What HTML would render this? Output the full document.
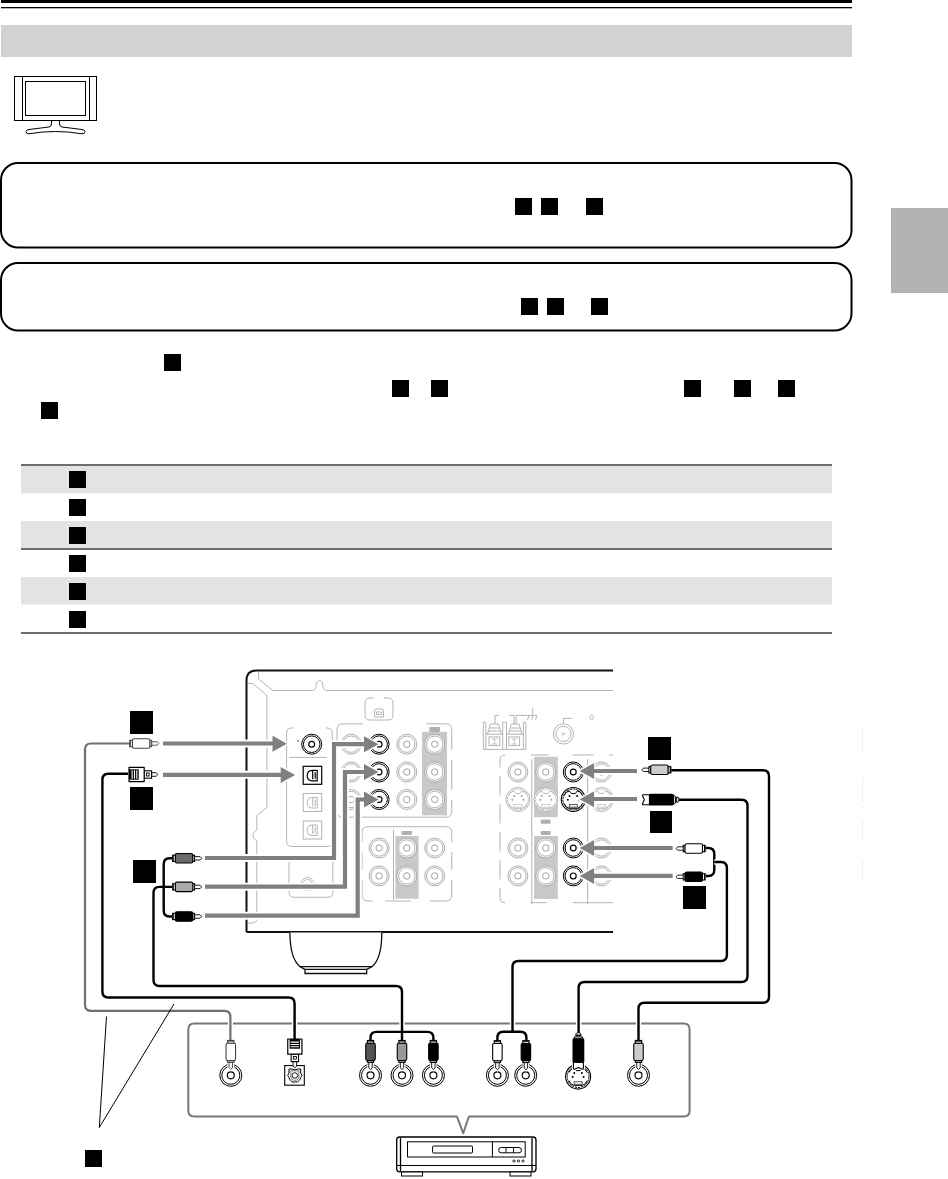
<!DOCTYPE html>
<html><head><meta charset="utf-8"><title>Connecting a DVD player</title>
<style>
html,body{margin:0;padding:0;background:#fff;font-family:"Liberation Sans",sans-serif;}
body{width:948px;height:1179px;overflow:hidden;position:relative;}
svg{position:absolute;left:0;top:0;display:block;}
</style></head><body>
<svg width="948" height="1179" viewBox="0 0 948 1179">
<rect x="1" y="0" width="851" height="3" fill="#000"/>
<rect x="1" y="7" width="851" height="1.3" fill="#000"/>
<rect x="1" y="25" width="851" height="32" fill="#d2d2d2"/>
<g fill="none" stroke="#000" stroke-width="1">
<rect x="14.5" y="76.5" width="82" height="44"/>
<line x1="22.5" y1="76.5" x2="22.5" y2="120.5"/><line x1="89.5" y1="76.5" x2="89.5" y2="120.5"/>
<rect x="25.5" y="81.5" width="60" height="34"/>
<path d="M51.5,120.5 V124 Q51.5,126.5 49,127 L29,129.5 Q26,130 26,131.5 Q26,134 29,133.8 Q42,131.5 55.5,131.5 Q69,131.5 82,133.8 Q85,134 85,131.5 Q85,130 82,129.5 L62,127 Q59.5,126.5 59.5,124 V120.5"/>
</g>
<rect x="1" y="163" width="850.5" height="84.5" rx="17" fill="none" stroke="#000" stroke-width="2"/>
<rect x="1" y="263" width="850.5" height="67.5" rx="17" fill="none" stroke="#000" stroke-width="2"/>
<rect x="515" y="198" width="17" height="17" fill="#000"/>
<rect x="541" y="198" width="17" height="17" fill="#000"/>
<rect x="586" y="198" width="17" height="17" fill="#000"/>
<rect x="521" y="298" width="17" height="17" fill="#000"/>
<rect x="547" y="298" width="17" height="17" fill="#000"/>
<rect x="591" y="298" width="17" height="17" fill="#000"/>
<rect x="891" y="208" width="57" height="85" fill="#b2b2b2"/>
<rect x="164" y="354" width="17" height="17" fill="#000"/>
<rect x="41" y="402" width="17" height="17" fill="#000"/>
<rect x="392" y="380" width="17" height="17" fill="#000"/>
<rect x="431" y="380" width="17" height="17" fill="#000"/>
<rect x="684" y="380" width="17" height="17" fill="#000"/>
<rect x="734" y="380" width="17" height="17" fill="#000"/>
<rect x="778" y="380" width="17" height="17" fill="#000"/>
<rect x="21" y="466" width="811" height="27.5" fill="#e3e3e3"/>
<rect x="21" y="521" width="811" height="27.5" fill="#e3e3e3"/>
<rect x="21" y="577" width="811" height="27.5" fill="#e3e3e3"/>
<rect x="21" y="464" width="811" height="2" fill="#6e6e6e"/>
<rect x="21" y="548" width="811" height="2" fill="#6e6e6e"/>
<rect x="21" y="632" width="811" height="2" fill="#6e6e6e"/>
<rect x="69" y="471" width="17" height="17" fill="#000"/>
<rect x="69" y="499" width="17" height="17" fill="#000"/>
<rect x="69" y="527" width="17" height="17" fill="#000"/>
<rect x="69" y="555" width="17" height="17" fill="#000"/>
<rect x="69" y="583" width="17" height="17" fill="#000"/>
<rect x="69" y="611" width="17" height="17" fill="#000"/>
<defs><clipPath id="rc"><rect x="200" y="650" width="413" height="300"/></clipPath></defs>
<g clip-path="url(#rc)">
<g fill="none" stroke="#b4b4b4" stroke-width="1">
<path d="M258.5,670.5 V679 L272.7,690.5 H313.5 L316,688 C316,682 317.5,680.5 319.5,680.5 C321.5,680.5 323,682 323,688 L325.5,690.5 H620"/>
<path d="M247,683.4 H252.7 L266.9,695.3 V807.3 L256.8,815.7 V830 C253.5,832 253,834 253,835.5 C253,837.5 254,839 256.8,841 V918.8 Q256.8,923 251,923 H247"/>
<path d="M294,728 H291.6 Q286.6,728 286.6,733 V841.5 Q286.6,846.5 291.6,846.5 H327.2 Q332.2,846.5 332.2,841.5 V733 Q332.2,728 327.2,728 H326"/>
<line x1="289" y1="757.4" x2="327" y2="757.4"/>
<path d="M289,860 V892.3 Q289,897.3 294,897.3 H327.8 Q332.8,897.3 332.8,892.3 V860"/>
<path d="M301,884 A6.5,6.5 0 0 1 314,884 M303,884 A4.5,4.5 0 0 1 312,884 M303.5,890.5 H311.5"/>
<path d="M363,723.8 H343 Q337,723.8 337,729.8 V811.2 Q337,817.2 343,817.2 H445.8 Q451.8,817.2 451.8,811.2 V800 M451.8,790 V760 M451.8,750 V729.8 Q451.8,723.8 445.8,723.8 H426"/>
<path d="M370,698 Q365,698 365,703 V715 Q365,720 370,720 H388 Q393,720 393,715 V703 Q393,698 388,698 H384 M374,698 H370"/>
<path d="M374.5,717 V711 Q374.5,709 376.5,709 H381.5 Q383.5,709 383.5,711 V717 Z M376.5,712 H381.5 V714.5 H376.5 Z"/>
<path d="M362,842 V832.7 Q362,826.7 368,826.7 H445.8 Q451.8,826.7 451.8,832.7 V842 M451.8,852 V870 M451.8,880 V895 Q451.8,901 445.8,901 H429.7 M411,901 H385 M372.7,901 H368 Q362,901 362,895 V880 M362,870 V852"/>
<line x1="393.5" y1="830" x2="393.5" y2="900"/>
<path d="M483.3,749.4 V722.2 H485.8 V749.4 M502.7,749.4 V722.2 H506.5 V749.4 M523.3,749.4 V722.2 H525.8 V749.4 M483.3,749.4 H525.8 M485.8,734.2 H502.7 M506.5,734.2 H523.3"/>
<path d="M487.5,734 L490.5,724 H498.5 L501.5,734 M488.5,731 H500.5 M489.5,728 H499.5 M508.5,734 L511,724 H519 L522,734 M509.5,731 H521 M510.5,728 H520"/>
<rect x="489" y="737" width="10.8" height="8.6"/><rect x="508.8" y="737" width="10.8" height="8.6"/>
<path d="M492,739 H497 M494.5,739 V744 M492,744 H497 M511.8,739 H516.8 M514.3,739 V744 M511.8,744 H516.8" stroke-width="0.8"/>
<path d="M495,724 V715.4 H499 M509,715.4 H514 V724 M516,724 V715.4 H536.9 M532.7,708 V715.4 M529,715.4 L527.5,720 M533,715.4 L531.5,720 M537,715.4 L535.5,720"/>
<circle cx="563.4" cy="733.9" r="10.1"/><circle cx="563.4" cy="733.9" r="7.6"/><path d="M563.4,732.6 L564.7,733.9 L563.4,735.2 L562.1,733.9 Z"/><path d="M563.4,723.8 V718.4 H571.7"/>
<path d="M590,720 H591 V719 Q589.8,718 589.8,716.8 Q589.8,715 591.7,715 Q593.6,715 593.6,716.8 Q593.6,718 592.4,719 V720 H593.4" stroke-width="0.8"/>
<path d="M505,755 Q500,755 500,760 V767.4 M500,775.8 V795.4 M500,803.8 V823.4 M500,831.8 V851.4 M500,859.8 V879.4 M500,887.8 V897.7 Q500,902.7 505,902.7 M531.8,759 V904 M587.6,759 V904 M530.6,755 H548.8 M572.6,755 H593.6 M609,755 H620 M530.6,902.7 H546.7 M572.6,902.7 H620"/>
</g>
<rect x="422" y="731.8" width="25" height="83.5" fill="#c8c8c8"/>
<rect x="429.4" y="727" width="10.6" height="5" rx="1" fill="#b0b0b0"/>
<rect x="395.4" y="836" width="23.2" height="62.7" fill="#c8c8c8"/>
<rect x="401.5" y="831" width="10.5" height="4" rx="1" fill="#b0b0b0"/>
<rect x="534" y="756.8" width="23.8" height="60.4" fill="#c8c8c8"/>
<rect x="540.7" y="819.5" width="10" height="4.2" rx="1" fill="#b0b0b0"/>
<rect x="534" y="836" width="23.8" height="63" fill="#c8c8c8"/>
<rect x="540.7" y="831" width="10" height="4" rx="1" fill="#b0b0b0"/>
<circle cx="311.7" cy="744.2" r="10" fill="#fff" stroke="#000" stroke-width="1"/>
<circle cx="311.7" cy="744.2" r="8.3" fill="none" stroke="#000" stroke-width="1"/>
<circle cx="311.7" cy="744.2" r="2.9" fill="none" stroke="#000" stroke-width="1.2"/>
<circle cx="298" cy="741" r="0.7" fill="#000"/>
<rect x="303.2" y="766.3" width="18.5" height="18" fill="#fff" stroke="#000" stroke-width="1.2"/>
<path d="M317.2,770.3 H312.2 Q307.2,770.3 307.2,775.8 Q307.2,780.8 312.2,780.8 H317.2 Z M312.7,770.3 V779.3 M315.2,772.3 V778.8" fill="none" stroke="#000" stroke-width="1.2"/>
<rect x="303.2" y="793.5" width="18.5" height="18" fill="#fff" stroke="#aaa" stroke-width="0.9"/>
<path d="M317.2,797.5 H312.2 Q307.2,797.5 307.2,803.0 Q307.2,808.0 312.2,808.0 H317.2 Z M312.7,797.5 V806.5 M315.2,799.5 V806.0" fill="none" stroke="#aaa" stroke-width="0.9"/>
<rect x="303.2" y="821" width="18.5" height="18" fill="#fff" stroke="#aaa" stroke-width="0.9"/>
<path d="M317.2,825 H312.2 Q307.2,825 307.2,830.5 Q307.2,835.5 312.2,835.5 H317.2 Z M312.7,825 V834 M315.2,827 V833.5" fill="none" stroke="#aaa" stroke-width="0.9"/>
<circle cx="351.2" cy="744.2" r="10" fill="#fff" stroke="#9a9a9a" stroke-width="0.8"/>
<circle cx="351.2" cy="744.2" r="8.2" fill="none" stroke="#9a9a9a" stroke-width="0.8"/>
<circle cx="351.2" cy="744.2" r="3.2" fill="none" stroke="#9a9a9a" stroke-width="0.9"/>
<circle cx="379.1" cy="744.2" r="10" fill="#fff" stroke="#000" stroke-width="1"/>
<circle cx="379.1" cy="744.2" r="8.3" fill="none" stroke="#000" stroke-width="1"/>
<circle cx="379.1" cy="744.2" r="2.9" fill="none" stroke="#000" stroke-width="1.2"/>
<circle cx="406.8" cy="744.2" r="10" fill="#fff" stroke="#9a9a9a" stroke-width="0.8"/>
<circle cx="406.8" cy="744.2" r="8.2" fill="none" stroke="#9a9a9a" stroke-width="0.8"/>
<circle cx="406.8" cy="744.2" r="3.2" fill="none" stroke="#9a9a9a" stroke-width="0.9"/>
<circle cx="434.7" cy="744.2" r="10" fill="#fff" stroke="#9a9a9a" stroke-width="0.8"/>
<circle cx="434.7" cy="744.2" r="8.2" fill="none" stroke="#9a9a9a" stroke-width="0.8"/>
<circle cx="434.7" cy="744.2" r="3.2" fill="none" stroke="#9a9a9a" stroke-width="0.9"/>
<circle cx="351.2" cy="772" r="10" fill="#fff" stroke="#9a9a9a" stroke-width="0.8"/>
<circle cx="351.2" cy="772" r="8.2" fill="none" stroke="#9a9a9a" stroke-width="0.8"/>
<circle cx="351.2" cy="772" r="3.2" fill="none" stroke="#9a9a9a" stroke-width="0.9"/>
<circle cx="379.1" cy="772" r="10" fill="#fff" stroke="#000" stroke-width="1"/>
<circle cx="379.1" cy="772" r="8.3" fill="none" stroke="#000" stroke-width="1"/>
<circle cx="379.1" cy="772" r="2.9" fill="none" stroke="#000" stroke-width="1.2"/>
<circle cx="406.8" cy="772" r="10" fill="#fff" stroke="#9a9a9a" stroke-width="0.8"/>
<circle cx="406.8" cy="772" r="8.2" fill="none" stroke="#9a9a9a" stroke-width="0.8"/>
<circle cx="406.8" cy="772" r="3.2" fill="none" stroke="#9a9a9a" stroke-width="0.9"/>
<circle cx="434.7" cy="772" r="10" fill="#fff" stroke="#9a9a9a" stroke-width="0.8"/>
<circle cx="434.7" cy="772" r="8.2" fill="none" stroke="#9a9a9a" stroke-width="0.8"/>
<circle cx="434.7" cy="772" r="3.2" fill="none" stroke="#9a9a9a" stroke-width="0.9"/>
<circle cx="351.2" cy="799.5" r="10" fill="#fff" stroke="#9a9a9a" stroke-width="0.8"/>
<circle cx="351.2" cy="799.5" r="8.2" fill="none" stroke="#9a9a9a" stroke-width="0.8"/>
<circle cx="351.2" cy="799.5" r="3.2" fill="none" stroke="#9a9a9a" stroke-width="0.9"/>
<circle cx="379.1" cy="799.5" r="10" fill="#fff" stroke="#000" stroke-width="1"/>
<circle cx="379.1" cy="799.5" r="8.3" fill="none" stroke="#000" stroke-width="1"/>
<circle cx="379.1" cy="799.5" r="2.9" fill="none" stroke="#000" stroke-width="1.2"/>
<circle cx="406.8" cy="799.5" r="10" fill="#fff" stroke="#9a9a9a" stroke-width="0.8"/>
<circle cx="406.8" cy="799.5" r="8.2" fill="none" stroke="#9a9a9a" stroke-width="0.8"/>
<circle cx="406.8" cy="799.5" r="3.2" fill="none" stroke="#9a9a9a" stroke-width="0.9"/>
<circle cx="434.7" cy="799.5" r="10" fill="#fff" stroke="#9a9a9a" stroke-width="0.8"/>
<circle cx="434.7" cy="799.5" r="8.2" fill="none" stroke="#9a9a9a" stroke-width="0.8"/>
<circle cx="434.7" cy="799.5" r="3.2" fill="none" stroke="#9a9a9a" stroke-width="0.9"/>
<circle cx="379.1" cy="848" r="10" fill="#fff" stroke="#9a9a9a" stroke-width="0.8"/>
<circle cx="379.1" cy="848" r="8.2" fill="none" stroke="#9a9a9a" stroke-width="0.8"/>
<circle cx="379.1" cy="848" r="3.2" fill="none" stroke="#9a9a9a" stroke-width="0.9"/>
<circle cx="406.8" cy="848" r="10" fill="#fff" stroke="#9a9a9a" stroke-width="0.8"/>
<circle cx="406.8" cy="848" r="8.2" fill="none" stroke="#9a9a9a" stroke-width="0.8"/>
<circle cx="406.8" cy="848" r="3.2" fill="none" stroke="#9a9a9a" stroke-width="0.9"/>
<circle cx="434.7" cy="848" r="10" fill="#fff" stroke="#9a9a9a" stroke-width="0.8"/>
<circle cx="434.7" cy="848" r="8.2" fill="none" stroke="#9a9a9a" stroke-width="0.8"/>
<circle cx="434.7" cy="848" r="3.2" fill="none" stroke="#9a9a9a" stroke-width="0.9"/>
<circle cx="379.1" cy="875.9" r="10" fill="#fff" stroke="#9a9a9a" stroke-width="0.8"/>
<circle cx="379.1" cy="875.9" r="8.2" fill="none" stroke="#9a9a9a" stroke-width="0.8"/>
<circle cx="379.1" cy="875.9" r="3.2" fill="none" stroke="#9a9a9a" stroke-width="0.9"/>
<circle cx="406.8" cy="875.9" r="10" fill="#fff" stroke="#9a9a9a" stroke-width="0.8"/>
<circle cx="406.8" cy="875.9" r="8.2" fill="none" stroke="#9a9a9a" stroke-width="0.8"/>
<circle cx="406.8" cy="875.9" r="3.2" fill="none" stroke="#9a9a9a" stroke-width="0.9"/>
<circle cx="434.7" cy="875.9" r="10" fill="#fff" stroke="#9a9a9a" stroke-width="0.8"/>
<circle cx="434.7" cy="875.9" r="8.2" fill="none" stroke="#9a9a9a" stroke-width="0.8"/>
<circle cx="434.7" cy="875.9" r="3.2" fill="none" stroke="#9a9a9a" stroke-width="0.9"/>
<circle cx="517.9" cy="772" r="10" fill="#fff" stroke="#9a9a9a" stroke-width="0.8"/>
<circle cx="517.9" cy="772" r="8.2" fill="none" stroke="#9a9a9a" stroke-width="0.8"/>
<circle cx="517.9" cy="772" r="3.2" fill="none" stroke="#9a9a9a" stroke-width="0.9"/>
<circle cx="545.8" cy="772" r="10" fill="#fff" stroke="#9a9a9a" stroke-width="0.8"/>
<circle cx="545.8" cy="772" r="8.2" fill="none" stroke="#9a9a9a" stroke-width="0.8"/>
<circle cx="545.8" cy="772" r="3.2" fill="none" stroke="#9a9a9a" stroke-width="0.9"/>
<circle cx="573.3" cy="772" r="10" fill="#fff" stroke="#000" stroke-width="1"/>
<circle cx="573.3" cy="772" r="8.3" fill="none" stroke="#000" stroke-width="1"/>
<circle cx="573.3" cy="772" r="2.9" fill="none" stroke="#000" stroke-width="1.2"/>
<circle cx="601.4" cy="772" r="10" fill="#fff" stroke="#9a9a9a" stroke-width="0.8"/>
<circle cx="601.4" cy="772" r="8.2" fill="none" stroke="#9a9a9a" stroke-width="0.8"/>
<circle cx="601.4" cy="772" r="3.2" fill="none" stroke="#9a9a9a" stroke-width="0.9"/>
<circle cx="517.9" cy="799.5" r="12" fill="#fff" stroke="#a0a0a0" stroke-width="0.8"/>
<circle cx="517.9" cy="799.5" r="10.4" fill="none" stroke="#a0a0a0" stroke-width="0.7200000000000001" stroke-dasharray="2.2,0.8"/>
<path d="M508.9,795.5 Q509.9,791.5 513.9,791.0 L515.9,793.5 H519.9 L521.9,791.0 Q525.9,791.5 526.9,795.5 M508.9,803.5 Q509.9,807.5 513.9,808.3 H521.9 Q525.9,807.5 526.9,803.5" fill="none" stroke="#a0a0a0" stroke-width="0.7200000000000001"/>
<rect x="513.9" y="804.7" width="8" height="2.4" fill="none" stroke="#a0a0a0" stroke-width="0.48"/>
<circle cx="514.1" cy="796.0" r="1" fill="#a0a0a0"/>
<circle cx="521.6999999999999" cy="796.0" r="1" fill="#a0a0a0"/>
<circle cx="512.4" cy="799.8" r="1" fill="#a0a0a0"/>
<circle cx="523.4" cy="799.8" r="1" fill="#a0a0a0"/>
<circle cx="545.8" cy="799.5" r="12" fill="#fff" stroke="#a0a0a0" stroke-width="0.8"/>
<circle cx="545.8" cy="799.5" r="10.4" fill="none" stroke="#a0a0a0" stroke-width="0.7200000000000001" stroke-dasharray="2.2,0.8"/>
<path d="M536.8,795.5 Q537.8,791.5 541.8,791.0 L543.8,793.5 H547.8 L549.8,791.0 Q553.8,791.5 554.8,795.5 M536.8,803.5 Q537.8,807.5 541.8,808.3 H549.8 Q553.8,807.5 554.8,803.5" fill="none" stroke="#a0a0a0" stroke-width="0.7200000000000001"/>
<rect x="541.8" y="804.7" width="8" height="2.4" fill="none" stroke="#a0a0a0" stroke-width="0.48"/>
<circle cx="542.0" cy="796.0" r="1" fill="#a0a0a0"/>
<circle cx="549.5999999999999" cy="796.0" r="1" fill="#a0a0a0"/>
<circle cx="540.3" cy="799.8" r="1" fill="#a0a0a0"/>
<circle cx="551.3" cy="799.8" r="1" fill="#a0a0a0"/>
<circle cx="573.3" cy="799.5" r="12" fill="#fff" stroke="#000" stroke-width="1.1"/>
<circle cx="573.3" cy="799.5" r="10.4" fill="none" stroke="#000" stroke-width="0.9900000000000001" stroke-dasharray="2.2,0.8"/>
<path d="M564.3,795.5 Q565.3,791.5 569.3,791.0 L571.3,793.5 H575.3 L577.3,791.0 Q581.3,791.5 582.3,795.5 M564.3,803.5 Q565.3,807.5 569.3,808.3 H577.3 Q581.3,807.5 582.3,803.5" fill="none" stroke="#000" stroke-width="0.9900000000000001"/>
<rect x="569.3" y="804.7" width="8" height="2.4" fill="none" stroke="#000" stroke-width="0.66"/>
<circle cx="569.5" cy="796.0" r="1" fill="#000"/>
<circle cx="577.0999999999999" cy="796.0" r="1" fill="#000"/>
<circle cx="567.8" cy="799.8" r="1" fill="#000"/>
<circle cx="578.8" cy="799.8" r="1" fill="#000"/>
<circle cx="601.4" cy="799.5" r="12" fill="#fff" stroke="#a0a0a0" stroke-width="0.8"/>
<circle cx="601.4" cy="799.5" r="10.4" fill="none" stroke="#a0a0a0" stroke-width="0.7200000000000001" stroke-dasharray="2.2,0.8"/>
<path d="M592.4,795.5 Q593.4,791.5 597.4,791.0 L599.4,793.5 H603.4 L605.4,791.0 Q609.4,791.5 610.4,795.5 M592.4,803.5 Q593.4,807.5 597.4,808.3 H605.4 Q609.4,807.5 610.4,803.5" fill="none" stroke="#a0a0a0" stroke-width="0.7200000000000001"/>
<rect x="597.4" y="804.7" width="8" height="2.4" fill="none" stroke="#a0a0a0" stroke-width="0.48"/>
<circle cx="597.6" cy="796.0" r="1" fill="#a0a0a0"/>
<circle cx="605.1999999999999" cy="796.0" r="1" fill="#a0a0a0"/>
<circle cx="595.9" cy="799.8" r="1" fill="#a0a0a0"/>
<circle cx="606.9" cy="799.8" r="1" fill="#a0a0a0"/>
<circle cx="517.9" cy="848" r="10" fill="#fff" stroke="#9a9a9a" stroke-width="0.8"/>
<circle cx="517.9" cy="848" r="8.2" fill="none" stroke="#9a9a9a" stroke-width="0.8"/>
<circle cx="517.9" cy="848" r="3.2" fill="none" stroke="#9a9a9a" stroke-width="0.9"/>
<circle cx="545.8" cy="848" r="10" fill="#fff" stroke="#9a9a9a" stroke-width="0.8"/>
<circle cx="545.8" cy="848" r="8.2" fill="none" stroke="#9a9a9a" stroke-width="0.8"/>
<circle cx="545.8" cy="848" r="3.2" fill="none" stroke="#9a9a9a" stroke-width="0.9"/>
<circle cx="573.3" cy="848" r="10" fill="#fff" stroke="#000" stroke-width="1"/>
<circle cx="573.3" cy="848" r="8.3" fill="none" stroke="#000" stroke-width="1"/>
<circle cx="573.3" cy="848" r="2.9" fill="none" stroke="#000" stroke-width="1.2"/>
<circle cx="601.4" cy="848" r="10" fill="#fff" stroke="#9a9a9a" stroke-width="0.8"/>
<circle cx="601.4" cy="848" r="8.2" fill="none" stroke="#9a9a9a" stroke-width="0.8"/>
<circle cx="601.4" cy="848" r="3.2" fill="none" stroke="#9a9a9a" stroke-width="0.9"/>
<circle cx="517.9" cy="875.9" r="10" fill="#fff" stroke="#9a9a9a" stroke-width="0.8"/>
<circle cx="517.9" cy="875.9" r="8.2" fill="none" stroke="#9a9a9a" stroke-width="0.8"/>
<circle cx="517.9" cy="875.9" r="3.2" fill="none" stroke="#9a9a9a" stroke-width="0.9"/>
<circle cx="545.8" cy="875.9" r="10" fill="#fff" stroke="#9a9a9a" stroke-width="0.8"/>
<circle cx="545.8" cy="875.9" r="8.2" fill="none" stroke="#9a9a9a" stroke-width="0.8"/>
<circle cx="545.8" cy="875.9" r="3.2" fill="none" stroke="#9a9a9a" stroke-width="0.9"/>
<circle cx="573.3" cy="875.9" r="10" fill="#fff" stroke="#000" stroke-width="1"/>
<circle cx="573.3" cy="875.9" r="8.3" fill="none" stroke="#000" stroke-width="1"/>
<circle cx="573.3" cy="875.9" r="2.9" fill="none" stroke="#000" stroke-width="1.2"/>
<circle cx="601.4" cy="875.9" r="10" fill="#fff" stroke="#9a9a9a" stroke-width="0.8"/>
<circle cx="601.4" cy="875.9" r="8.2" fill="none" stroke="#9a9a9a" stroke-width="0.8"/>
<circle cx="601.4" cy="875.9" r="3.2" fill="none" stroke="#9a9a9a" stroke-width="0.9"/>
</g>
<path d="M246.5,932 V680.5 Q246.5,670.5 256.5,670.5 H613 M246.5,932 H613" fill="none" stroke="#111" stroke-width="2"/>
<g fill="#fff" stroke="#111" stroke-width="1.3">
<path d="M289.9,932.5 C290,948 293,961 300,966.6 L305,969.4 V973.5 H366.7 V969.4 L372,966.6 C379,961 381.8,948 381.8,932.5"/>
<path d="M300,966.6 H372 M305,969.4 H366.7" fill="none"/>
</g>
<path d="M163,743.5 H273" fill="none" stroke="#fff" stroke-width="8" stroke-linejoin="miter"/>
<path d="M287,743.8 L272.5,735.8 L272.5,751.8 Z" fill="#fff" stroke="#fff" stroke-width="3"/>
<path d="M163,743.5 H273" fill="none" stroke="#808080" stroke-width="4.2" stroke-linejoin="miter"/>
<path d="M287,743.8 L272.5,735.8 L272.5,751.8 Z" fill="#808080"/>
<path d="M163,774.8 H281" fill="none" stroke="#fff" stroke-width="8" stroke-linejoin="miter"/>
<path d="M295.2,774.9 L280.7,766.9 L280.7,782.9 Z" fill="#fff" stroke="#fff" stroke-width="3"/>
<path d="M163,774.8 H281" fill="none" stroke="#808080" stroke-width="4.2" stroke-linejoin="miter"/>
<path d="M295.2,774.9 L280.7,766.9 L280.7,782.9 Z" fill="#808080"/>
<path d="M205,858 H334 V744.2 H364" fill="none" stroke="#fff" stroke-width="8" stroke-linejoin="miter"/>
<path d="M378.5,744.2 L364.0,736.2 L364.0,752.2 Z" fill="#fff" stroke="#fff" stroke-width="3"/>
<path d="M205,858 H334 V744.2 H364" fill="none" stroke="#808080" stroke-width="4.2" stroke-linejoin="miter"/>
<path d="M378.5,744.2 L364.0,736.2 L364.0,752.2 Z" fill="#808080"/>
<path d="M205,886.7 H345 V772 H364" fill="none" stroke="#fff" stroke-width="8" stroke-linejoin="miter"/>
<path d="M378.5,772 L364.0,764 L364.0,780 Z" fill="#fff" stroke="#fff" stroke-width="3"/>
<path d="M205,886.7 H345 V772 H364" fill="none" stroke="#808080" stroke-width="4.2" stroke-linejoin="miter"/>
<path d="M378.5,772 L364.0,764 L364.0,780 Z" fill="#808080"/>
<path d="M205,915.7 H357.7 V799.5 H364" fill="none" stroke="#fff" stroke-width="8" stroke-linejoin="miter"/>
<path d="M378.5,799.5 L364.0,791.5 L364.0,807.5 Z" fill="#fff" stroke="#fff" stroke-width="3"/>
<path d="M205,915.7 H357.7 V799.5 H364" fill="none" stroke="#808080" stroke-width="4.2" stroke-linejoin="miter"/>
<path d="M378.5,799.5 L364.0,791.5 L364.0,807.5 Z" fill="#808080"/>
<path d="M637,771 H594" fill="none" stroke="#fff" stroke-width="8" stroke-linejoin="miter"/>
<path d="M579.6,771 L594.1,763 L594.1,779 Z" fill="#fff" stroke="#fff" stroke-width="3"/>
<path d="M637,771 H594" fill="none" stroke="#808080" stroke-width="4.2" stroke-linejoin="miter"/>
<path d="M579.6,771 L594.1,763 L594.1,779 Z" fill="#808080"/>
<path d="M637,799 H594" fill="none" stroke="#fff" stroke-width="8" stroke-linejoin="miter"/>
<path d="M579.6,799.3 L594.1,791.3 L594.1,807.3 Z" fill="#fff" stroke="#fff" stroke-width="3"/>
<path d="M637,799 H594" fill="none" stroke="#808080" stroke-width="4.2" stroke-linejoin="miter"/>
<path d="M579.6,799.3 L594.1,791.3 L594.1,807.3 Z" fill="#808080"/>
<path d="M672.7,848 H594" fill="none" stroke="#fff" stroke-width="8" stroke-linejoin="miter"/>
<path d="M579.6,848 L594.1,840 L594.1,856 Z" fill="#fff" stroke="#fff" stroke-width="3"/>
<path d="M672.7,848 H594" fill="none" stroke="#808080" stroke-width="4.2" stroke-linejoin="miter"/>
<path d="M579.6,848 L594.1,840 L594.1,856 Z" fill="#808080"/>
<path d="M672.7,875.9 H594" fill="none" stroke="#fff" stroke-width="8" stroke-linejoin="miter"/>
<path d="M579.6,875.9 L594.1,867.9 L594.1,883.9 Z" fill="#fff" stroke="#fff" stroke-width="3"/>
<path d="M672.7,875.9 H594" fill="none" stroke="#808080" stroke-width="4.2" stroke-linejoin="miter"/>
<path d="M579.6,875.9 L594.1,867.9 L594.1,883.9 Z" fill="#808080"/>
<path d="M456.9,1116.5 H194.3 Q188.3,1116.5 188.3,1110.5 V1029.5 Q188.3,1023.5 194.3,1023.5 H683.6 Q689.6,1023.5 689.6,1029.5 V1110.5 Q689.6,1116.5 683.6,1116.5 H468.9 L463.2,1133.2 Z" fill="#fff" stroke="#777" stroke-width="2" stroke-linejoin="round"/>
<path d="M130.8,743.5 H91 Q85,743.5 85,749.5 V1004.8 Q85,1010.8 91,1010.8 H224.4 Q230.4,1010.8 230.4,1016.8 V1041" fill="none" stroke="#fff" stroke-width="5.2"/>
<path d="M130.8,743.5 H91 Q85,743.5 85,749.5 V1004.8 Q85,1010.8 91,1010.8 H224.4 Q230.4,1010.8 230.4,1016.8 V1041" fill="none" stroke="#707070" stroke-width="2.2"/>
<path d="M128,773.8 H108.4 Q102.4,773.8 102.4,779.8 V991.5 Q102.4,997.5 108.4,997.5 H288.6 Q294.6,997.5 294.6,1003.5 V1039" fill="none" stroke="#fff" stroke-width="5.4"/>
<path d="M128,773.8 H108.4 Q102.4,773.8 102.4,779.8 V991.5 Q102.4,997.5 108.4,997.5 H288.6 Q294.6,997.5 294.6,1003.5 V1039" fill="none" stroke="#000" stroke-width="2.4"/>
<path d="M172,886.9 H159.5 Q153.5,886.9 153.5,892.9 V980 Q153.5,986 159.5,986 H396 Q402,986 402,992 V1041" fill="none" stroke="#fff" stroke-width="5.4"/>
<path d="M172,886.9 H159.5 Q153.5,886.9 153.5,892.9 V980 Q153.5,986 159.5,986 H396 Q402,986 402,992 V1041" fill="none" stroke="#000" stroke-width="2.4"/>
<path d="M172,858.2 H169.7 Q163.7,858.2 163.7,864.2 V910.5 Q163.7,916.5 169.7,916.5 H172" fill="none" stroke="#000" stroke-width="2.4"/>
<path d="M370.5,1041 V1037.9 Q370.5,1031.9 376.5,1031.9 H427.4 Q433.4,1031.9 433.4,1037.9 V1041" fill="none" stroke="#000" stroke-width="2.4"/>
<path d="M671.2,770.3 H763 Q769,770.3 769,776.3 V996.7 Q769,1002.7 763,1002.7 H644.5 Q638.5,1002.7 638.5,1008.7 V1041" fill="none" stroke="#fff" stroke-width="5.4"/>
<path d="M671.2,770.3 H763 Q769,770.3 769,776.3 V996.7 Q769,1002.7 763,1002.7 H644.5 Q638.5,1002.7 638.5,1008.7 V1041" fill="none" stroke="#000" stroke-width="2.4"/>
<path d="M678.8,799.7 H741.5 Q747.5,799.7 747.5,805.7 V976 Q747.5,982 741.5,982 H584.6 Q578.6,982 578.6,988 V1036" fill="none" stroke="#fff" stroke-width="5.4"/>
<path d="M678.8,799.7 H741.5 Q747.5,799.7 747.5,805.7 V976 Q747.5,982 741.5,982 H584.6 Q578.6,982 578.6,988 V1036" fill="none" stroke="#000" stroke-width="2.4"/>
<path d="M705.8,848 H708.3 Q714.3,848 714.3,854 V870 Q714.3,876 708.3,876 H705.8" fill="none" stroke="#000" stroke-width="2.4"/>
<path d="M714.3,862 H720.9 Q726.9,862 726.9,868 V955 Q726.9,961 720.9,961 H518.5 Q512.5,961 512.5,967 V1031.7" fill="none" stroke="#fff" stroke-width="5.4"/>
<path d="M714.3,862 H720.9 Q726.9,862 726.9,868 V955 Q726.9,961 720.9,961 H518.5 Q512.5,961 512.5,967 V1031.7" fill="none" stroke="#000" stroke-width="2.4"/>
<path d="M497.4,1042 V1037.7 Q497.4,1031.7 503.4,1031.7 H520.4 Q526.4,1031.7 526.4,1037.7 V1042" fill="none" stroke="#000" stroke-width="2.4"/>
<g transform="translate(158.8,743.5) rotate(180)">
<path d="M0,0 L1.6,-1.7 H7.6 V1.7 H1.6 Z" fill="#fff" stroke="#fff" stroke-width="3.2" stroke-linejoin="round"/>
<path d="M0,0 L1.6,-1.7 H7.6 V1.7 H1.6 Z" fill="#fff" stroke="#444" stroke-width="0.9" stroke-linejoin="round"/>
<rect x="6.6" y="-3.7" width="3" height="7.4" fill="#444"/>
<line x1="8.1" y1="-2.6" x2="8.1" y2="2.6" stroke="#fff" stroke-width="0.9"/>
<rect x="8.9" y="-4.75" width="17.6" height="9.5" rx="1.8" fill="#fff" stroke="#444" stroke-width="1.1"/>
<rect x="25.8" y="-3.7" width="3.8" height="7.4" fill="#444"/>
<line x1="27.4" y1="-2.6" x2="27.4" y2="2.6" stroke="#fff" stroke-width="1"/>
</g>
<rect x="130" y="711" width="23" height="23" fill="#000"/>
<g transform="translate(157.7,774.5) rotate(180)">
<rect x="6" y="-4.2" width="8" height="8.4" fill="#fff" stroke="#fff" stroke-width="2.5"/>
<path d="M0,0 L1.5,-1.8 H6.1 V1.8 H1.5 Z" fill="#fff" stroke="#000" stroke-width="0.9" stroke-linejoin="round"/>
<rect x="6.1" y="-3.7" width="7.4" height="7.4" fill="#fff" stroke="#000" stroke-width="1.1"/>
<rect x="8.6" y="-1.5" width="2.6" height="3" fill="none" stroke="#000" stroke-width="0.9"/>
<path d="M13.5,-7.1 H28.7 V7.1 H13.5 Z" fill="#fff" stroke="#000" stroke-width="1.2" stroke-linejoin="round"/>
<rect x="19" y="-5.2" width="9.7" height="10.4" fill="#000"/>
<path d="M20.9,-4.2 V4.2 M23.2,-4.2 V4.2 M25.6,-4.2 V4.2" stroke="#fff" stroke-width="1.1"/>
</g>
<rect x="130" y="787" width="23" height="23" fill="#000"/>
<g transform="translate(201.7,858.3) rotate(180)">
<path d="M0,0 L1.6,-1.7 H7.6 V1.7 H1.6 Z" fill="#fff" stroke="#fff" stroke-width="3.2" stroke-linejoin="round"/>
<path d="M0,0 L1.6,-1.7 H7.6 V1.7 H1.6 Z" fill="#fff" stroke="#000" stroke-width="0.9" stroke-linejoin="round"/>
<rect x="6.6" y="-3.7" width="3" height="7.4" fill="#000"/>
<line x1="8.1" y1="-2.6" x2="8.1" y2="2.6" stroke="#fff" stroke-width="0.9"/>
<rect x="8.9" y="-4.75" width="17.6" height="9.5" rx="1.8" fill="#6a6a6a" stroke="#000" stroke-width="1.1"/>
<rect x="25.8" y="-3.7" width="3.8" height="7.4" fill="#000"/>
<line x1="27.4" y1="-2.6" x2="27.4" y2="2.6" stroke="#fff" stroke-width="1"/>
</g>
<g transform="translate(201.7,886.9) rotate(180)">
<path d="M0,0 L1.6,-1.7 H7.6 V1.7 H1.6 Z" fill="#fff" stroke="#fff" stroke-width="3.2" stroke-linejoin="round"/>
<path d="M0,0 L1.6,-1.7 H7.6 V1.7 H1.6 Z" fill="#fff" stroke="#000" stroke-width="0.9" stroke-linejoin="round"/>
<rect x="6.6" y="-3.7" width="3" height="7.4" fill="#000"/>
<line x1="8.1" y1="-2.6" x2="8.1" y2="2.6" stroke="#fff" stroke-width="0.9"/>
<rect x="8.9" y="-4.75" width="17.6" height="9.5" rx="1.8" fill="#aaa" stroke="#000" stroke-width="1.1"/>
<rect x="25.8" y="-3.7" width="3.8" height="7.4" fill="#000"/>
<line x1="27.4" y1="-2.6" x2="27.4" y2="2.6" stroke="#fff" stroke-width="1"/>
</g>
<g transform="translate(201.7,916.5) rotate(180)">
<path d="M0,0 L1.6,-1.7 H7.6 V1.7 H1.6 Z" fill="#fff" stroke="#fff" stroke-width="3.2" stroke-linejoin="round"/>
<path d="M0,0 L1.6,-1.7 H7.6 V1.7 H1.6 Z" fill="#fff" stroke="#000" stroke-width="0.9" stroke-linejoin="round"/>
<rect x="6.6" y="-3.7" width="3" height="7.4" fill="#000"/>
<line x1="8.1" y1="-2.6" x2="8.1" y2="2.6" stroke="#fff" stroke-width="0.9"/>
<rect x="8.9" y="-4.75" width="17.6" height="9.5" rx="1.8" fill="#000" stroke="#000" stroke-width="1.1"/>
<rect x="25.8" y="-3.7" width="3.8" height="7.4" fill="#000"/>
<line x1="27.4" y1="-2.6" x2="27.4" y2="2.6" stroke="#fff" stroke-width="1"/>
</g>
<rect x="133" y="860" width="23" height="23" fill="#000"/>
<g transform="translate(641.8,769.8) rotate(0)">
<path d="M0,0 L1.6,-1.7 H7.6 V1.7 H1.6 Z" fill="#fff" stroke="#fff" stroke-width="3.2" stroke-linejoin="round"/>
<path d="M0,0 L1.6,-1.7 H7.6 V1.7 H1.6 Z" fill="#fff" stroke="#000" stroke-width="0.9" stroke-linejoin="round"/>
<rect x="6.6" y="-3.7" width="3" height="7.4" fill="#000"/>
<line x1="8.1" y1="-2.6" x2="8.1" y2="2.6" stroke="#fff" stroke-width="0.9"/>
<rect x="8.9" y="-4.75" width="17.6" height="9.5" rx="1.8" fill="#ccc" stroke="#000" stroke-width="1.1"/>
<rect x="25.8" y="-3.7" width="3.8" height="7.4" fill="#000"/>
<line x1="27.4" y1="-2.6" x2="27.4" y2="2.6" stroke="#fff" stroke-width="1"/>
</g>
<g transform="translate(643.1,799.7) rotate(0)">
<path d="M0,-5 H6.5 V5 H0 Q-0.8,5 -0.6,4 L1.2,0 L-0.6,-4 Q-0.8,-5 0,-5 Z" fill="#fff" stroke="#fff" stroke-width="3"/>
<path d="M0,-5 H6.5 V5 H0 Q-0.8,5 -0.6,4 L1.2,0 L-0.6,-4 Q-0.8,-5 0,-5 Z" fill="#fff" stroke="#000" stroke-width="1.1" stroke-linejoin="round"/>
<rect x="5.8" y="-5.9" width="24.6" height="11.8" rx="1.5" fill="#000"/>
<path d="M30,-5.5 L33.5,-2.6 L35.6,-2.6 L35.6,2.6 L33.5,2.6 L30,5.5 Z" fill="#000"/>
<path d="M33.6,-2.5 H34.5 Q35.8,-2.5 35.8,0 Q35.8,2.5 34.5,2.5 H33.6 Z" fill="#fff" stroke="#000" stroke-width="0.8"/>
<line x1="31.5" y1="-3.5" x2="31.5" y2="3.5" stroke="#fff" stroke-width="0.9"/>
</g>
<g transform="translate(676.1,848.5) rotate(0)">
<path d="M0,0 L1.6,-1.7 H7.6 V1.7 H1.6 Z" fill="#fff" stroke="#fff" stroke-width="3.2" stroke-linejoin="round"/>
<path d="M0,0 L1.6,-1.7 H7.6 V1.7 H1.6 Z" fill="#fff" stroke="#000" stroke-width="0.9" stroke-linejoin="round"/>
<rect x="6.6" y="-3.7" width="3" height="7.4" fill="#000"/>
<line x1="8.1" y1="-2.6" x2="8.1" y2="2.6" stroke="#fff" stroke-width="0.9"/>
<rect x="8.9" y="-4.75" width="17.6" height="9.5" rx="1.8" fill="#fff" stroke="#000" stroke-width="1.1"/>
<rect x="25.8" y="-3.7" width="3.8" height="7.4" fill="#000"/>
<line x1="27.4" y1="-2.6" x2="27.4" y2="2.6" stroke="#fff" stroke-width="1"/>
</g>
<g transform="translate(676.1,876.8) rotate(0)">
<path d="M0,0 L1.6,-1.7 H7.6 V1.7 H1.6 Z" fill="#fff" stroke="#fff" stroke-width="3.2" stroke-linejoin="round"/>
<path d="M0,0 L1.6,-1.7 H7.6 V1.7 H1.6 Z" fill="#fff" stroke="#000" stroke-width="0.9" stroke-linejoin="round"/>
<rect x="6.6" y="-3.7" width="3" height="7.4" fill="#000"/>
<line x1="8.1" y1="-2.6" x2="8.1" y2="2.6" stroke="#fff" stroke-width="0.9"/>
<rect x="8.9" y="-4.75" width="17.6" height="9.5" rx="1.8" fill="#000" stroke="#000" stroke-width="1.1"/>
<rect x="25.8" y="-3.7" width="3.8" height="7.4" fill="#000"/>
<line x1="27.4" y1="-2.6" x2="27.4" y2="2.6" stroke="#fff" stroke-width="1"/>
</g>
<rect x="648" y="737" width="23" height="23" fill="#000"/>
<rect x="650" y="811" width="22" height="22" fill="#000"/>
<rect x="683" y="886" width="23" height="23" fill="#000"/>
<circle cx="230.8" cy="1075.3" r="11" fill="#fff" stroke="#000" stroke-width="1"/>
<circle cx="230.8" cy="1075.3" r="9" fill="none" stroke="#000" stroke-width="1"/>
<circle cx="230.8" cy="1075.3" r="3.5" fill="none" stroke="#000" stroke-width="1.15"/>
<circle cx="370.5" cy="1075.3" r="11" fill="#fff" stroke="#000" stroke-width="1"/>
<circle cx="370.5" cy="1075.3" r="9" fill="none" stroke="#000" stroke-width="1"/>
<circle cx="370.5" cy="1075.3" r="3.5" fill="none" stroke="#000" stroke-width="1.15"/>
<circle cx="402" cy="1075.3" r="11" fill="#fff" stroke="#000" stroke-width="1"/>
<circle cx="402" cy="1075.3" r="9" fill="none" stroke="#000" stroke-width="1"/>
<circle cx="402" cy="1075.3" r="3.5" fill="none" stroke="#000" stroke-width="1.15"/>
<circle cx="433.4" cy="1075.3" r="11" fill="#fff" stroke="#000" stroke-width="1"/>
<circle cx="433.4" cy="1075.3" r="9" fill="none" stroke="#000" stroke-width="1"/>
<circle cx="433.4" cy="1075.3" r="3.5" fill="none" stroke="#000" stroke-width="1.15"/>
<circle cx="497.4" cy="1075.3" r="11" fill="#fff" stroke="#000" stroke-width="1"/>
<circle cx="497.4" cy="1075.3" r="9" fill="none" stroke="#000" stroke-width="1"/>
<circle cx="497.4" cy="1075.3" r="3.5" fill="none" stroke="#000" stroke-width="1.15"/>
<circle cx="525.7" cy="1075.3" r="11" fill="#fff" stroke="#000" stroke-width="1"/>
<circle cx="525.7" cy="1075.3" r="9" fill="none" stroke="#000" stroke-width="1"/>
<circle cx="525.7" cy="1075.3" r="3.5" fill="none" stroke="#000" stroke-width="1.15"/>
<circle cx="638.5" cy="1075.3" r="11" fill="#fff" stroke="#000" stroke-width="1"/>
<circle cx="638.5" cy="1075.3" r="9" fill="none" stroke="#000" stroke-width="1"/>
<circle cx="638.5" cy="1075.3" r="3.5" fill="none" stroke="#000" stroke-width="1.15"/>
<rect x="284.7" y="1065.6" width="19.6" height="19.6" fill="#fff" stroke="#000" stroke-width="1.1"/>
<path d="M289,1069 H291.5 Q294.85,1070.5 298.2,1069 H300.7 V1073 L302,1075.3 L300.7,1077.5 Q300.7,1079 299,1080.5 L297.5,1082 H292.2 L290.7,1080.5 Q289,1079 289,1077.5 L287.7,1075.3 L289,1073 Z" fill="none" stroke="#000" stroke-width="1"/>
<path d="M290.8,1070.8 H298.9 V1076 Q298.9,1080.3 294.85,1080.3 Q290.8,1080.3 290.8,1076 Z" fill="none" stroke="#555" stroke-width="0.8"/>
<circle cx="294.85" cy="1075.5" r="2.8" fill="none" stroke="#000" stroke-width="0.9"/>
<circle cx="578.1" cy="1076.6" r="12.5" fill="#fff" stroke="#000" stroke-width="1.1"/>
<circle cx="578.1" cy="1076.6" r="10.9" fill="none" stroke="#000" stroke-width="0.9900000000000001" stroke-dasharray="2.2,0.8"/>
<path d="M569.1,1072.6 Q570.1,1068.6 574.1,1068.1 L576.1,1070.6 H580.1 L582.1,1068.1 Q586.1,1068.6 587.1,1072.6 M569.1,1080.6 Q570.1,1084.6 574.1,1085.3999999999999 H582.1 Q586.1,1084.6 587.1,1080.6" fill="none" stroke="#000" stroke-width="0.9900000000000001"/>
<rect x="574.1" y="1081.8" width="8" height="2.4" fill="none" stroke="#000" stroke-width="0.66"/>
<circle cx="574.3000000000001" cy="1073.1" r="1" fill="#000"/>
<circle cx="581.9" cy="1073.1" r="1" fill="#000"/>
<circle cx="572.6" cy="1076.8999999999999" r="1" fill="#000"/>
<circle cx="583.6" cy="1076.8999999999999" r="1" fill="#000"/>
<g transform="translate(230.8,1069.5) rotate(-90)">
<path d="M0,0 L1.6,-1.7 H7.6 V1.7 H1.6 Z" fill="#fff" stroke="#fff" stroke-width="3.2" stroke-linejoin="round"/>
<path d="M0,0 L1.6,-1.7 H7.6 V1.7 H1.6 Z" fill="#fff" stroke="#444" stroke-width="0.9" stroke-linejoin="round"/>
<rect x="6.6" y="-3.7" width="3" height="7.4" fill="#444"/>
<line x1="8.1" y1="-2.6" x2="8.1" y2="2.6" stroke="#fff" stroke-width="0.9"/>
<rect x="8.9" y="-4.75" width="17.6" height="9.5" rx="1.8" fill="#fff" stroke="#444" stroke-width="1.1"/>
<rect x="25.8" y="-3.7" width="3.8" height="7.4" fill="#444"/>
<line x1="27.4" y1="-2.6" x2="27.4" y2="2.6" stroke="#fff" stroke-width="1"/>
</g>
<g transform="translate(294.85,1067.7) rotate(-90)">
<rect x="6" y="-4.2" width="8" height="8.4" fill="#fff" stroke="#fff" stroke-width="2.5"/>
<path d="M0,0 L1.5,-1.8 H6.1 V1.8 H1.5 Z" fill="#fff" stroke="#000" stroke-width="0.9" stroke-linejoin="round"/>
<rect x="6.1" y="-3.7" width="7.4" height="7.4" fill="#fff" stroke="#000" stroke-width="1.1"/>
<rect x="8.6" y="-1.5" width="2.6" height="3" fill="none" stroke="#000" stroke-width="0.9"/>
<path d="M13.5,-7.1 H28.7 V7.1 H13.5 Z" fill="#fff" stroke="#000" stroke-width="1.2" stroke-linejoin="round"/>
<rect x="19" y="-5.2" width="9.7" height="10.4" fill="#000"/>
<path d="M20.9,-4.2 V4.2 M23.2,-4.2 V4.2 M25.6,-4.2 V4.2" stroke="#fff" stroke-width="1.1"/>
</g>
<g transform="translate(370.5,1069.5) rotate(-90)">
<path d="M0,0 L1.6,-1.7 H7.6 V1.7 H1.6 Z" fill="#fff" stroke="#fff" stroke-width="3.2" stroke-linejoin="round"/>
<path d="M0,0 L1.6,-1.7 H7.6 V1.7 H1.6 Z" fill="#fff" stroke="#000" stroke-width="0.9" stroke-linejoin="round"/>
<rect x="6.6" y="-3.7" width="3" height="7.4" fill="#000"/>
<line x1="8.1" y1="-2.6" x2="8.1" y2="2.6" stroke="#fff" stroke-width="0.9"/>
<rect x="8.9" y="-4.75" width="17.6" height="9.5" rx="1.8" fill="#555" stroke="#000" stroke-width="1.1"/>
<rect x="25.8" y="-3.7" width="3.8" height="7.4" fill="#000"/>
<line x1="27.4" y1="-2.6" x2="27.4" y2="2.6" stroke="#fff" stroke-width="1"/>
</g>
<g transform="translate(402,1069.5) rotate(-90)">
<path d="M0,0 L1.6,-1.7 H7.6 V1.7 H1.6 Z" fill="#fff" stroke="#fff" stroke-width="3.2" stroke-linejoin="round"/>
<path d="M0,0 L1.6,-1.7 H7.6 V1.7 H1.6 Z" fill="#fff" stroke="#000" stroke-width="0.9" stroke-linejoin="round"/>
<rect x="6.6" y="-3.7" width="3" height="7.4" fill="#000"/>
<line x1="8.1" y1="-2.6" x2="8.1" y2="2.6" stroke="#fff" stroke-width="0.9"/>
<rect x="8.9" y="-4.75" width="17.6" height="9.5" rx="1.8" fill="#999" stroke="#000" stroke-width="1.1"/>
<rect x="25.8" y="-3.7" width="3.8" height="7.4" fill="#000"/>
<line x1="27.4" y1="-2.6" x2="27.4" y2="2.6" stroke="#fff" stroke-width="1"/>
</g>
<g transform="translate(433.4,1069.5) rotate(-90)">
<path d="M0,0 L1.6,-1.7 H7.6 V1.7 H1.6 Z" fill="#fff" stroke="#fff" stroke-width="3.2" stroke-linejoin="round"/>
<path d="M0,0 L1.6,-1.7 H7.6 V1.7 H1.6 Z" fill="#fff" stroke="#000" stroke-width="0.9" stroke-linejoin="round"/>
<rect x="6.6" y="-3.7" width="3" height="7.4" fill="#000"/>
<line x1="8.1" y1="-2.6" x2="8.1" y2="2.6" stroke="#fff" stroke-width="0.9"/>
<rect x="8.9" y="-4.75" width="17.6" height="9.5" rx="1.8" fill="#000" stroke="#000" stroke-width="1.1"/>
<rect x="25.8" y="-3.7" width="3.8" height="7.4" fill="#000"/>
<line x1="27.4" y1="-2.6" x2="27.4" y2="2.6" stroke="#fff" stroke-width="1"/>
</g>
<g transform="translate(497.4,1069.7) rotate(-90)">
<path d="M0,0 L1.6,-1.7 H7.6 V1.7 H1.6 Z" fill="#fff" stroke="#fff" stroke-width="3.2" stroke-linejoin="round"/>
<path d="M0,0 L1.6,-1.7 H7.6 V1.7 H1.6 Z" fill="#fff" stroke="#000" stroke-width="0.9" stroke-linejoin="round"/>
<rect x="6.6" y="-3.7" width="3" height="7.4" fill="#000"/>
<line x1="8.1" y1="-2.6" x2="8.1" y2="2.6" stroke="#fff" stroke-width="0.9"/>
<rect x="8.9" y="-4.75" width="17.6" height="9.5" rx="1.8" fill="#fff" stroke="#000" stroke-width="1.1"/>
<rect x="25.8" y="-3.7" width="3.8" height="7.4" fill="#000"/>
<line x1="27.4" y1="-2.6" x2="27.4" y2="2.6" stroke="#fff" stroke-width="1"/>
</g>
<g transform="translate(525.9,1069.7) rotate(-90)">
<path d="M0,0 L1.6,-1.7 H7.6 V1.7 H1.6 Z" fill="#fff" stroke="#fff" stroke-width="3.2" stroke-linejoin="round"/>
<path d="M0,0 L1.6,-1.7 H7.6 V1.7 H1.6 Z" fill="#fff" stroke="#000" stroke-width="0.9" stroke-linejoin="round"/>
<rect x="6.6" y="-3.7" width="3" height="7.4" fill="#000"/>
<line x1="8.1" y1="-2.6" x2="8.1" y2="2.6" stroke="#fff" stroke-width="0.9"/>
<rect x="8.9" y="-4.75" width="17.6" height="9.5" rx="1.8" fill="#000" stroke="#000" stroke-width="1.1"/>
<rect x="25.8" y="-3.7" width="3.8" height="7.4" fill="#000"/>
<line x1="27.4" y1="-2.6" x2="27.4" y2="2.6" stroke="#fff" stroke-width="1"/>
</g>
<g transform="translate(638.5,1069.5) rotate(-90)">
<path d="M0,0 L1.6,-1.7 H7.6 V1.7 H1.6 Z" fill="#fff" stroke="#fff" stroke-width="3.2" stroke-linejoin="round"/>
<path d="M0,0 L1.6,-1.7 H7.6 V1.7 H1.6 Z" fill="#fff" stroke="#000" stroke-width="0.9" stroke-linejoin="round"/>
<rect x="6.6" y="-3.7" width="3" height="7.4" fill="#000"/>
<line x1="8.1" y1="-2.6" x2="8.1" y2="2.6" stroke="#fff" stroke-width="0.9"/>
<rect x="8.9" y="-4.75" width="17.6" height="9.5" rx="1.8" fill="#ccc" stroke="#000" stroke-width="1.1"/>
<rect x="25.8" y="-3.7" width="3.8" height="7.4" fill="#000"/>
<line x1="27.4" y1="-2.6" x2="27.4" y2="2.6" stroke="#fff" stroke-width="1"/>
</g>
<g transform="translate(578.4,1068.6) rotate(-90)">
<path d="M0,-5 H6.5 V5 H0 Q-0.8,5 -0.6,4 L1.2,0 L-0.6,-4 Q-0.8,-5 0,-5 Z" fill="#fff" stroke="#fff" stroke-width="3"/>
<path d="M0,-5 H6.5 V5 H0 Q-0.8,5 -0.6,4 L1.2,0 L-0.6,-4 Q-0.8,-5 0,-5 Z" fill="#fff" stroke="#000" stroke-width="1.1" stroke-linejoin="round"/>
<rect x="5.8" y="-5.9" width="24.6" height="11.8" rx="1.5" fill="#000"/>
<path d="M30,-5.5 L33.5,-2.6 L35.6,-2.6 L35.6,2.6 L33.5,2.6 L30,5.5 Z" fill="#000"/>
<path d="M33.6,-2.5 H34.5 Q35.8,-2.5 35.8,0 Q35.8,2.5 34.5,2.5 H33.6 Z" fill="#fff" stroke="#000" stroke-width="0.8"/>
<line x1="31.5" y1="-3.5" x2="31.5" y2="3.5" stroke="#fff" stroke-width="0.9"/>
</g>
<g fill="#efefef"><rect x="862" y="669" width="1" height="2"/><rect x="862" y="728.5" width="1" height="23.5"/><rect x="862" y="778" width="1" height="24"/><rect x="862" y="806" width="1" height="3"/><rect x="862" y="820" width="1" height="22"/><rect x="862" y="860" width="1" height="20"/><rect x="862" y="930" width="1" height="2"/></g>
<path d="M106.5,1016.5 L99.3,1127.5 L174,1004" fill="none" stroke="#000" stroke-width="1"/>
<rect x="85" y="1150" width="17" height="17" fill="#000"/>
<g fill="none" stroke="#000" stroke-width="1.3">
<path d="M399.7,1137 H533 Q536,1137 536,1140 V1168.8 Q536,1171.8 533,1171.8 H399.7 Q396.7,1171.8 396.7,1168.8 V1140 Q396.7,1137 399.7,1137 Z"/>
<line x1="400.5" y1="1138" x2="400.5" y2="1171"/><line x1="532" y1="1138" x2="532" y2="1171"/>
<rect x="407.5" y="1141.8" width="117.7" height="15.2" stroke-width="1"/>
<line x1="492.4" y1="1141.8" x2="492.4" y2="1157" stroke-width="1"/>
<rect x="432.6" y="1146" width="39.9" height="7" rx="1" stroke-width="1"/>
<rect x="498.7" y="1147.5" width="22.7" height="5.3" rx="2.5" stroke-width="1"/>
<line x1="506" y1="1147.5" x2="506" y2="1152.8" stroke-width="0.9"/><line x1="513.5" y1="1147.5" x2="513.5" y2="1152.8" stroke-width="0.9"/>
<circle cx="514" cy="1161" r="1.1" stroke-width="0.8"/><circle cx="518.5" cy="1161" r="1.1" stroke-width="0.8"/><circle cx="523" cy="1161" r="1.1" stroke-width="0.8"/>
<line x1="397" y1="1165.5" x2="536" y2="1165.5" stroke-width="1"/>
</g>
<rect x="401.5" y="1172" width="21" height="4" fill="#fff" stroke="#000" stroke-width="1"/>
<rect x="510" y="1172" width="21" height="4" fill="#fff" stroke="#000" stroke-width="1"/>
</svg>
</body></html>
